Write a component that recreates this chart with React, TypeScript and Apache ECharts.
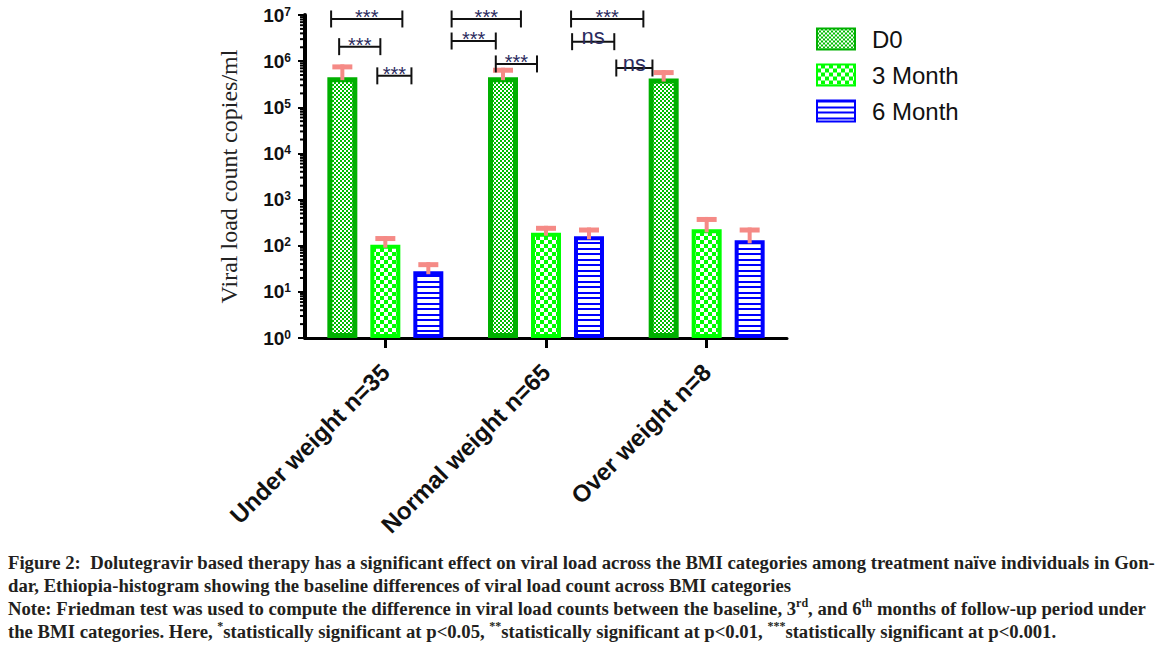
import React, { useEffect, useRef } from 'react';
import * as echarts from 'echarts';

// ---------- data ----------
const CATEGORIES = ['Under weight n=35', 'Normal weight n=65', 'Over weight n=8'];
const SERIES_NAMES = ['D0', '3 Month', '6 Month'];
const D0_MEAN = [450000, 450000, 420000];
const D0_UPPER = [850000, 720000, 640000];
const M3_MEAN = [105, 191, 226];
const M3_UPPER = [162, 270, 420];
const M6_MEAN = [28, 160, 131];
const M6_UPPER = [44, 248, 248];

const Y_EXPONENTS = ['0', '1', '2', '3', '4', '5', '6', '7'];
const MINOR_MULTIPLIERS = [2, 3, 4, 5, 6, 7, 8, 9];
const DECADES = [1, 10, 100, 1000, 10000, 100000, 1000000];

// significance brackets
const BRACKET_CATEGORY = [0, 0, 0, 1, 1, 1, 2, 2, 2];
const BRACKET_FROM = [-0.3375, -0.2875, -0.05, -0.5875, -0.5875, -0.3125, -0.844, -0.8375, -0.5625];
const BRACKET_TO = [0.106, -0.031, 0.1625, -0.156, -0.3125, -0.056, -0.394, -0.575, -0.3375];
const BRACKET_LEVEL = [8.2e6, 2.06e6, 4.8e5, 8.2e6, 2.73e6, 8.7e5, 8.2e6, 2.64e6, 7.1e5];
const BRACKET_LABEL = ['***', '***', '***', '***', '***', '***', '***', 'ns', 'ns'];

const CAPTION =
  'Figure 2:  Dolutegravir based therapy has a significant effect on viral load across the BMI categories among treatment naïve individuals in Gon-\n' +
  'dar, Ethiopia-histogram showing the baseline differences of viral load count across BMI categories\n' +
  'Note: Friedman test was used to compute the difference in viral load counts between the baseline, 3{sup|rd}, and 6{sup|th} months of follow-up period under\n' +
  'the BMI categories. Here, {sup|*}statistically significant at p<0.05, {sup|**}statistically significant at p<0.01, {sup|***}statistically significant at p<0.001.';

// ---------- style ----------
const SANS = '"Liberation Sans", Arial, sans-serif';
const SERIF = '"Liberation Serif", "Times New Roman", serif';
const BAR_WIDTH = 30;
const BAR_GAP = 0.433;
const ERR_COLOR = '#F58A86';

function makePattern(w: number, h: number, draw: (ctx: CanvasRenderingContext2D) => void) {
  const c = document.createElement('canvas');
  c.width = w;
  c.height = h;
  const ctx = c.getContext('2d')!;
  draw(ctx);
  return { image: c.toDataURL(), repeat: 'repeat', imageWidth: w, imageHeight: h } as any;
}

export default function App() {
  const ref = useRef<HTMLDivElement>(null);

  useEffect(() => {
    document.body.style.margin = '0';
    if (!ref.current) return;
    const chart = echarts.init(ref.current, null, { renderer: 'svg' });

    const pD0 = makePattern(4, 4, (ctx) => {
      ctx.fillStyle = '#ffffff';
      ctx.fillRect(0, 0, 4, 4);
      ctx.fillStyle = '#00BC00';
      ctx.fillRect(0, 0, 2, 2);
      ctx.fillRect(2, 2, 2, 2);
    });
    const pM3 = makePattern(8, 8, (ctx) => {
      ctx.fillStyle = '#00FF00';
      ctx.fillRect(0, 0, 8, 8);
      ctx.fillStyle = '#ffffff';
      ctx.fillRect(0, 0, 4, 4);
      ctx.fillRect(4, 4, 4, 4);
    });
    const pM6 = makePattern(4, 11, (ctx) => {
      ctx.fillStyle = '#ffffff';
      ctx.fillRect(0, 0, 4, 11);
      ctx.fillStyle = '#0000FF';
      ctx.fillRect(0, 0, 4, 2);
      ctx.fillRect(0, 6, 4, 2);
    });

    const errData: number[][] = [];
    const means = [D0_MEAN, M3_MEAN, M6_MEAN];
    const uppers = [D0_UPPER, M3_UPPER, M6_UPPER];
    for (let s = 0; s < 3; s++) {
      for (let c = 0; c < CATEGORIES.length; c++) {
        errData.push([c, s, means[s][c], uppers[s][c]]);
      }
    }
    const bracketData = BRACKET_CATEGORY.map((c, i) => [c, BRACKET_FROM[i], BRACKET_TO[i], BRACKET_LEVEL[i]]);
    const minorData: number[][] = [];
    DECADES.forEach((d) => MINOR_MULTIPLIERS.forEach((m) => minorData.push([0, d * m])));

    const option: any = {
      animation: false,
      backgroundColor: '#ffffff',
      grid: { left: 305, top: 15, width: 482, height: 323, outerBoundsMode: 'none' },
      legend: {
        data: SERIES_NAMES,
        orient: 'vertical',
        left: 816,
        top: 27,
        padding: 0,
        itemWidth: 38,
        itemHeight: 21,
        itemGap: 12,
        icon: 'rect',
        textStyle: { fontSize: 24, fontFamily: SANS, color: '#111', padding: [0, 0, 0, 12] },
      },
      xAxis: {
        type: 'category',
        data: CATEGORIES,
        axisLine: { show: true, onZero: false, lineStyle: { color: '#000', width: 3 } },
        axisTick: { show: true, alignWithLabel: true, length: 10, lineStyle: { color: '#000', width: 3 } },
        axisLabel: {
          rotate: 45,
          interval: 0,
          margin: 30,
          fontSize: 24,
          fontWeight: 'bold',
          fontFamily: SANS,
          color: '#111',
        },
        splitLine: { show: false },
      },
      yAxis: {
        type: 'log',
        logBase: 10,
        min: 1,
        max: 1e7,
        name: 'Viral load count copies/ml',
        nameLocation: 'middle',
        nameGap: 64,
        nameTextStyle: { fontFamily: SERIF, fontSize: 24, color: '#222' },
        axisLine: { show: true, lineStyle: { color: '#000', width: 4 } },
        axisTick: { show: true, length: 7, lineStyle: { color: '#000', width: 2 } },
        splitLine: { show: false },
        minorTick: { show: false },
        axisLabel: {
          margin: 14,
          formatter: (v: number) => `{b|10}{s|${Y_EXPONENTS[Math.round(Math.log10(v))]}}`,
          rich: {
            b: { fontSize: 19, fontWeight: 'bold', fontFamily: SANS, color: '#111' },
            s: { fontSize: 12, fontWeight: 'bold', fontFamily: SANS, color: '#111', verticalAlign: 'top' },
          },
        },
      },
      series: [
        {
          name: SERIES_NAMES[0],
          type: 'bar',
          data: D0_MEAN,
          barWidth: BAR_WIDTH,
          barGap: `${BAR_GAP * 100}%`,
          itemStyle: { color: pD0, borderColor: '#00B000', borderWidth: 5 },
        },
        {
          name: SERIES_NAMES[1],
          type: 'bar',
          data: M3_MEAN,
          barWidth: BAR_WIDTH,
          itemStyle: { color: pM3, borderColor: '#00FF00', borderWidth: 4 },
        },
        {
          name: SERIES_NAMES[2],
          type: 'bar',
          data: M6_MEAN,
          barWidth: BAR_WIDTH,
          itemStyle: { color: pM6, borderColor: '#0000FF', borderWidth: 4 },
        },
        {
          name: 'error',
          type: 'custom',
          silent: true,
          z: 5,
          encode: { x: 0, y: 3 },
          data: errData,
          renderItem: (params: any, api: any) => {
            const c = api.value(0);
            const s = api.value(1);
            const base = api.coord([c, api.value(2)]);
            const top = api.coord([c, api.value(3)]);
            const x = base[0] + (s - 1) * BAR_WIDTH * (1 + BAR_GAP);
            return {
              type: 'group',
              children: [
                { type: 'rect', shape: { x: x - 2, y: top[1], width: 4, height: base[1] - top[1] + 3 }, style: { fill: ERR_COLOR } },
                { type: 'rect', shape: { x: x - 10, y: top[1], width: 20, height: 5 }, style: { fill: ERR_COLOR } },
              ],
            };
          },
        },
        {
          name: 'brackets',
          type: 'custom',
          silent: true,
          z: 6,
          encode: { x: 0, y: 3 },
          data: bracketData,
          renderItem: (params: any, api: any) => {
            const i = params.dataIndex;
            const c = api.value(0);
            const lvl = api.value(3);
            const p = api.coord([c, lvl]);
            const band = api.size([1, 0], [c, lvl])[0];
            const x1 = p[0] + api.value(1) * band;
            const x2 = p[0] + api.value(2) * band;
            const y = p[1];
            const label = BRACKET_LABEL[i];
            const ns = label === 'ns';
            const ls = { stroke: '#111', lineWidth: 2 };
            return {
              type: 'group',
              children: [
                { type: 'line', shape: { x1, y1: y, x2, y2: y }, style: ls },
                { type: 'line', shape: { x1, y1: y - 8.5, x2: x1, y2: y + 8.5 }, style: ls },
                { type: 'line', shape: { x1: x2, y1: y - 8.5, x2, y2: y + 8.5 }, style: ls },
                {
                  type: 'text',
                  x: (x1 + x2) / 2,
                  y: ns ? y - 5 : y - 2,
                  style: {
                    text: label,
                    fill: '#2b2b5e',
                    fontSize: ns ? 22 : 20,
                    lineHeight: ns ? 16 : 12,
                    fontFamily: SANS,
                    align: 'center',
                    verticalAlign: 'middle',
                  },
                },
              ],
            };
          },
        },
        {
          name: 'minorTicks',
          type: 'custom',
          silent: true,
          z: 6,
          encode: { x: 0, y: 1 },
          data: minorData,
          renderItem: (params: any, api: any) => {
            const v = api.value(1);
            const p = api.coord([0, v]);
            const band = api.size([1, 0], [0, v])[0];
            const ax = p[0] - band / 2;
            return {
              type: 'line',
              shape: { x1: ax - 5, y1: p[1], x2: ax, y2: p[1] },
              style: { stroke: '#000', lineWidth: 2 },
            };
          },
        },
      ],
      graphic: [
        {
          type: 'text',
          left: 8,
          top: 551,
          silent: true,
          style: {
            text: CAPTION,
            fontFamily: SERIF,
            fontWeight: 'bold',
            fontSize: 18.7,
            lineHeight: 23,
            fill: '#231f20',
            rich: {
              sup: { fontSize: 12, fontFamily: SERIF, fontWeight: 'bold', fill: '#231f20', verticalAlign: 'top', lineHeight: 23 },
            },
          },
        },
      ],
    };

    chart.setOption(option);
    return () => chart.dispose();
  }, []);

  return <div ref={ref} style={{ width: 1167, height: 657 }} />;
}
